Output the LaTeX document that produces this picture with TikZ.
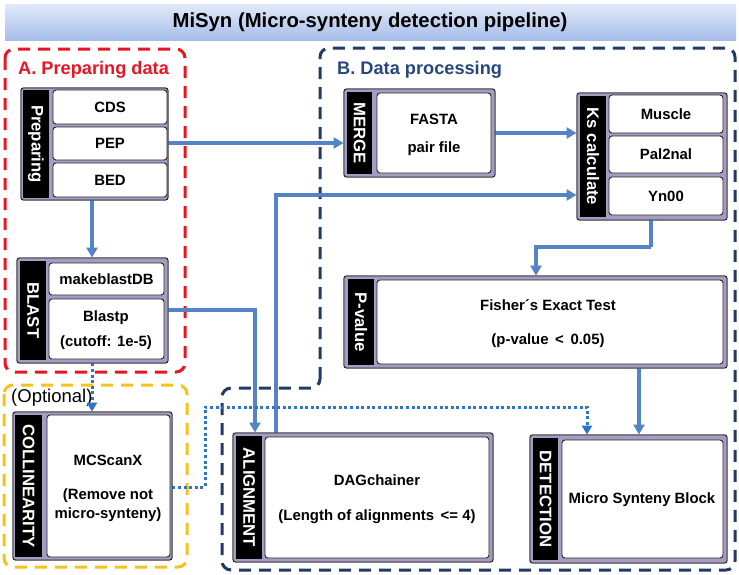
\documentclass[tikz,border=0pt]{standalone}
\usepackage{fontspec}
\setmainfont{Liberation Sans}
\usetikzlibrary{fit,arrows.meta}
\definecolor{lav}{RGB}{165,156,195}
\definecolor{conc}{RGB}{84,132,198}
\definecolor{dotc}{RGB}{46,117,200}
\definecolor{redc}{RGB}{232,22,36}
\definecolor{yelc}{RGB}{245,195,25}
\definecolor{navc}{RGB}{34,58,102}
\definecolor{labb}{RGB}{40,72,124}
\definecolor{ttop}{RGB}{226,233,249}
\definecolor{tbot}{RGB}{166,189,233}
\begin{document}
\begin{tikzpicture}[x=1pt,y=-1pt,
  frame/.style={draw=black!85, fill=lav, rounded corners=2.5pt, line width=0.9pt, inner sep=0pt},
  stripbox/.style={fill=black, inner sep=0pt},
  striptext/.style={text=white, font=\bfseries\fontsize{16.7}{17}\selectfont, rotate=-90, inner sep=0pt},
  inbox/.style={draw=black!85, fill=white, rounded corners=3pt, line width=0.9pt, inner sep=0pt},
  txt/.style={font=\bfseries\fontsize{14.9}{16}\selectfont, text=black, inner sep=0pt},
  conn/.style={draw=conc, line width=3.3pt, -{Triangle[length=10pt,width=11pt]}},
  plainconn/.style={draw=conc, line width=3.3pt},
  dotconn/.style={draw=dotc, line width=3pt, dash pattern=on 3pt off 2.6pt, -{Triangle[length=9pt,width=10pt]}},
  dashbox/.style={line width=3pt, dash pattern=on 12pt off 8pt, rounded corners=9pt},
]
\useasboundingbox (0,0) rectangle (739,574);
\fill[white] (0,0) rectangle (739,574);

% title
\shade[top color=ttop, bottom color=tbot] (5,4) rectangle (736,40);
\node[font=\bfseries\fontsize{20.3}{21}\selectfont, inner sep=0pt] (title) at (370,22) {MiSyn (Micro-synteny detection pipeline)};

% section boxes
\draw[dashbox, draw=redc] (5,49) rectangle (185,372);
\node[font=\bfseries\fontsize{18.2}{19}\selectfont, text=redc, anchor=west, inner sep=0pt] (labA) at (18,70) {A. Preparing data};
\draw[dashbox, draw=yelc] (4,385) rectangle (187,567);
\node[font=\fontsize{18.5}{19}\selectfont, anchor=west, inner sep=0pt] (labO) at (11,398) {(Optional)};
\draw[dashbox, draw=navc] (320,388) -- (320,48) -- (735,48) -- (735,570) -- (222,570) -- (222,388) -- cycle;
\node[font=\bfseries\fontsize{18.2}{19}\selectfont, text=labb, anchor=west, inner sep=0pt] (labB) at (337,70) {B. Data processing};

% helper coordinates
\coordinate (x92) at (92,0);
\coordinate (x255) at (255,0);
\coordinate (x276) at (276,0);
\coordinate (x536) at (536,0);
\coordinate (x587) at (587,0);
\coordinate (x639) at (639,0);
\coordinate (x651) at (651,0);
\coordinate (y195) at (0,195);
\coordinate (y310) at (0,310);
\coordinate (y487) at (0,487);
\coordinate (kturn) at (651,247);
\coordinate (dturn) at (205,407);

% groups (frames only, first, for anchors)
\node[frame, fit={(21,88)(168,200)}] (prep) {};
\node[frame, fit={(17,258)(168,363)}] (blast) {};
\node[frame, fit={(344,89)(495,177)}] (merge) {};
\node[frame, fit={(577,93)(727,220)}] (ks) {};
\node[frame, fit={(344,276)(727,368)}] (pval) {};
\node[frame, fit={(13,412)(172,560)}] (col) {};
\node[frame, fit={(233,433)(493,562)}] (align) {};
\node[frame, fit={(530,435)(727,563)}] (det) {};

% connectors
\draw[conn] (prep.south -| x92) -- (blast.north -| x92);
\draw[conn] (prep.east |- 0,143) -- (merge.west |- 0,143);
\draw[conn] (merge.east) -- (merge.east -| ks.west);
\draw[conn] (blast.east |- y310) -| (align.north -| x255);
\draw[conn] (align.north -| x276) |- (ks.west |- y195);
\draw[plainconn] (ks.south -| x651) -- (kturn);
\draw[conn] (kturn) -| (pval.north -| x536);
\draw[conn] (pval.south -| x639) -- (det.north -| x639);
\draw[dotconn] (blast.south -| x92) -- (col.north -| x92);
\draw[dotconn] (col.east |- y487) -| (dturn) -| (det.north -| x587);

% redraw frames on top
\foreach \n/\a/\b in {prep/{21,88}/{168,200}, blast/{17,258}/{168,363}, merge/{344,89}/{495,177}, ks/{577,93}/{727,220}, pval/{344,276}/{727,368}, col/{13,412}/{172,560}, align/{233,433}/{493,562}, det/{530,435}/{727,563}}
  \draw[draw=black!85, fill=lav, rounded corners=2.5pt, line width=0.9pt] (\a) rectangle (\b);

% Preparing
\node[stripbox, fit={(23,90)(49,198)}] (prepS) {};
\node[striptext] (prepT) at (prepS.center) {Preparing};
\node[inbox, fit={(53,90)(167,124)}] (cds) {};
\node[txt] (cdsT) at (cds.center) {CDS};
\node[inbox, fit={(53,127)(167,160)}] (pep) {};
\node[txt] (pepT) at (pep.center) {PEP};
\node[inbox, fit={(53,163)(167,197)}] (bed) {};
\node[txt] (bedT) at (bed.center) {BED};

% BLAST
\node[stripbox, fit={(20,261)(46,360)}] (blastS) {};
\node[striptext] (blastT) at (blastS.center) {BLAST};
\node[inbox, fit={(49,263)(164,295)}] (mkdb) {};
\node[txt] (mkdbT) at (mkdb.center) {makeblastDB};
\node[inbox, fit={(49,299)(164,359)}] (blastp) {};
\node[txt] (blastpT) at (106,318) {Blastp};
\node[txt] (cutT) at (106,343) {(cutoff: 1e-5)};

% MERGE
\node[stripbox, fit={(347,92)(372,174)}] (mergeS) {};
\node[striptext] (mergeT) at (mergeS.center) {MERGE};
\node[inbox, fit={(377,93)(491,173)}] (fasta) {};
\node[txt] (fastaT) at (434,119) {FASTA};
\node[txt] (pairT) at (434,149) {pair file};

% Ks calculate
\node[stripbox, fit={(580,96)(606,217)}] (ksS) {};
\node[striptext] (ksT) at (ksS.center) {Ks calculate};
\node[inbox, fit={(609,95)(723,133)}] (muscle) {};
\node[txt] (muscleT) at (muscle.center) {Muscle};
\node[inbox, fit={(609,136)(723,173)}] (pal) {};
\node[txt] (palT) at (pal.center) {Pal2nal};
\node[inbox, fit={(609,177)(723,215)}] (yn) {};
\node[txt] (ynT) at (yn.center) {Yn00};

% P-value
\node[stripbox, fit={(348,279)(374,365)}] (pvalS) {};
\node[striptext] (pvalT) at (pvalS.center) {P-value};
\node[inbox, fit={(377,280)(723,364)}] (fisher) {};
\node[txt] (fisherT) at (548,305) {Fisher´s Exact Test};
\node[txt] (pT) at (548,341) {(p-value \,<\, 0.05)};

% COLLINEARITY
\node[stripbox, fit={(15,415)(42,557)}] (colS) {};
\node[striptext] (colT) at (colS.center) {COLLINEARITY};
\node[inbox, fit={(47,415)(170,557)}] (mcs) {};
\node[txt] (mcsT) at (108,460) {MCScanX};
\node[txt] (remT) at (108,496) {(Remove not};
\node[txt] (microT) at (108,515) {micro-synteny)};

% ALIGNMENT
\node[stripbox, fit={(236,436)(262,559)}] (alignS) {};
\node[striptext] (alignT) at (alignS.center) {ALIGNMENT};
\node[inbox, fit={(265,437)(489,558)}] (dag) {};
\node[txt] (dagT) at (377,480) {DAGchainer};
\node[txt] (lenT) at (377,517) {(Length of alignments \,<= 4)};

% DETECTION
\node[stripbox, fit={(533,438)(558,560)}] (detS) {};
\node[striptext] (detT) at (detS.center) {DETECTION};
\node[inbox, fit={(562,440)(723,558)}] (msb) {};
\node[txt] (msbT) at (642,500) {Micro Synteny Block};
\end{tikzpicture}
\end{document}
